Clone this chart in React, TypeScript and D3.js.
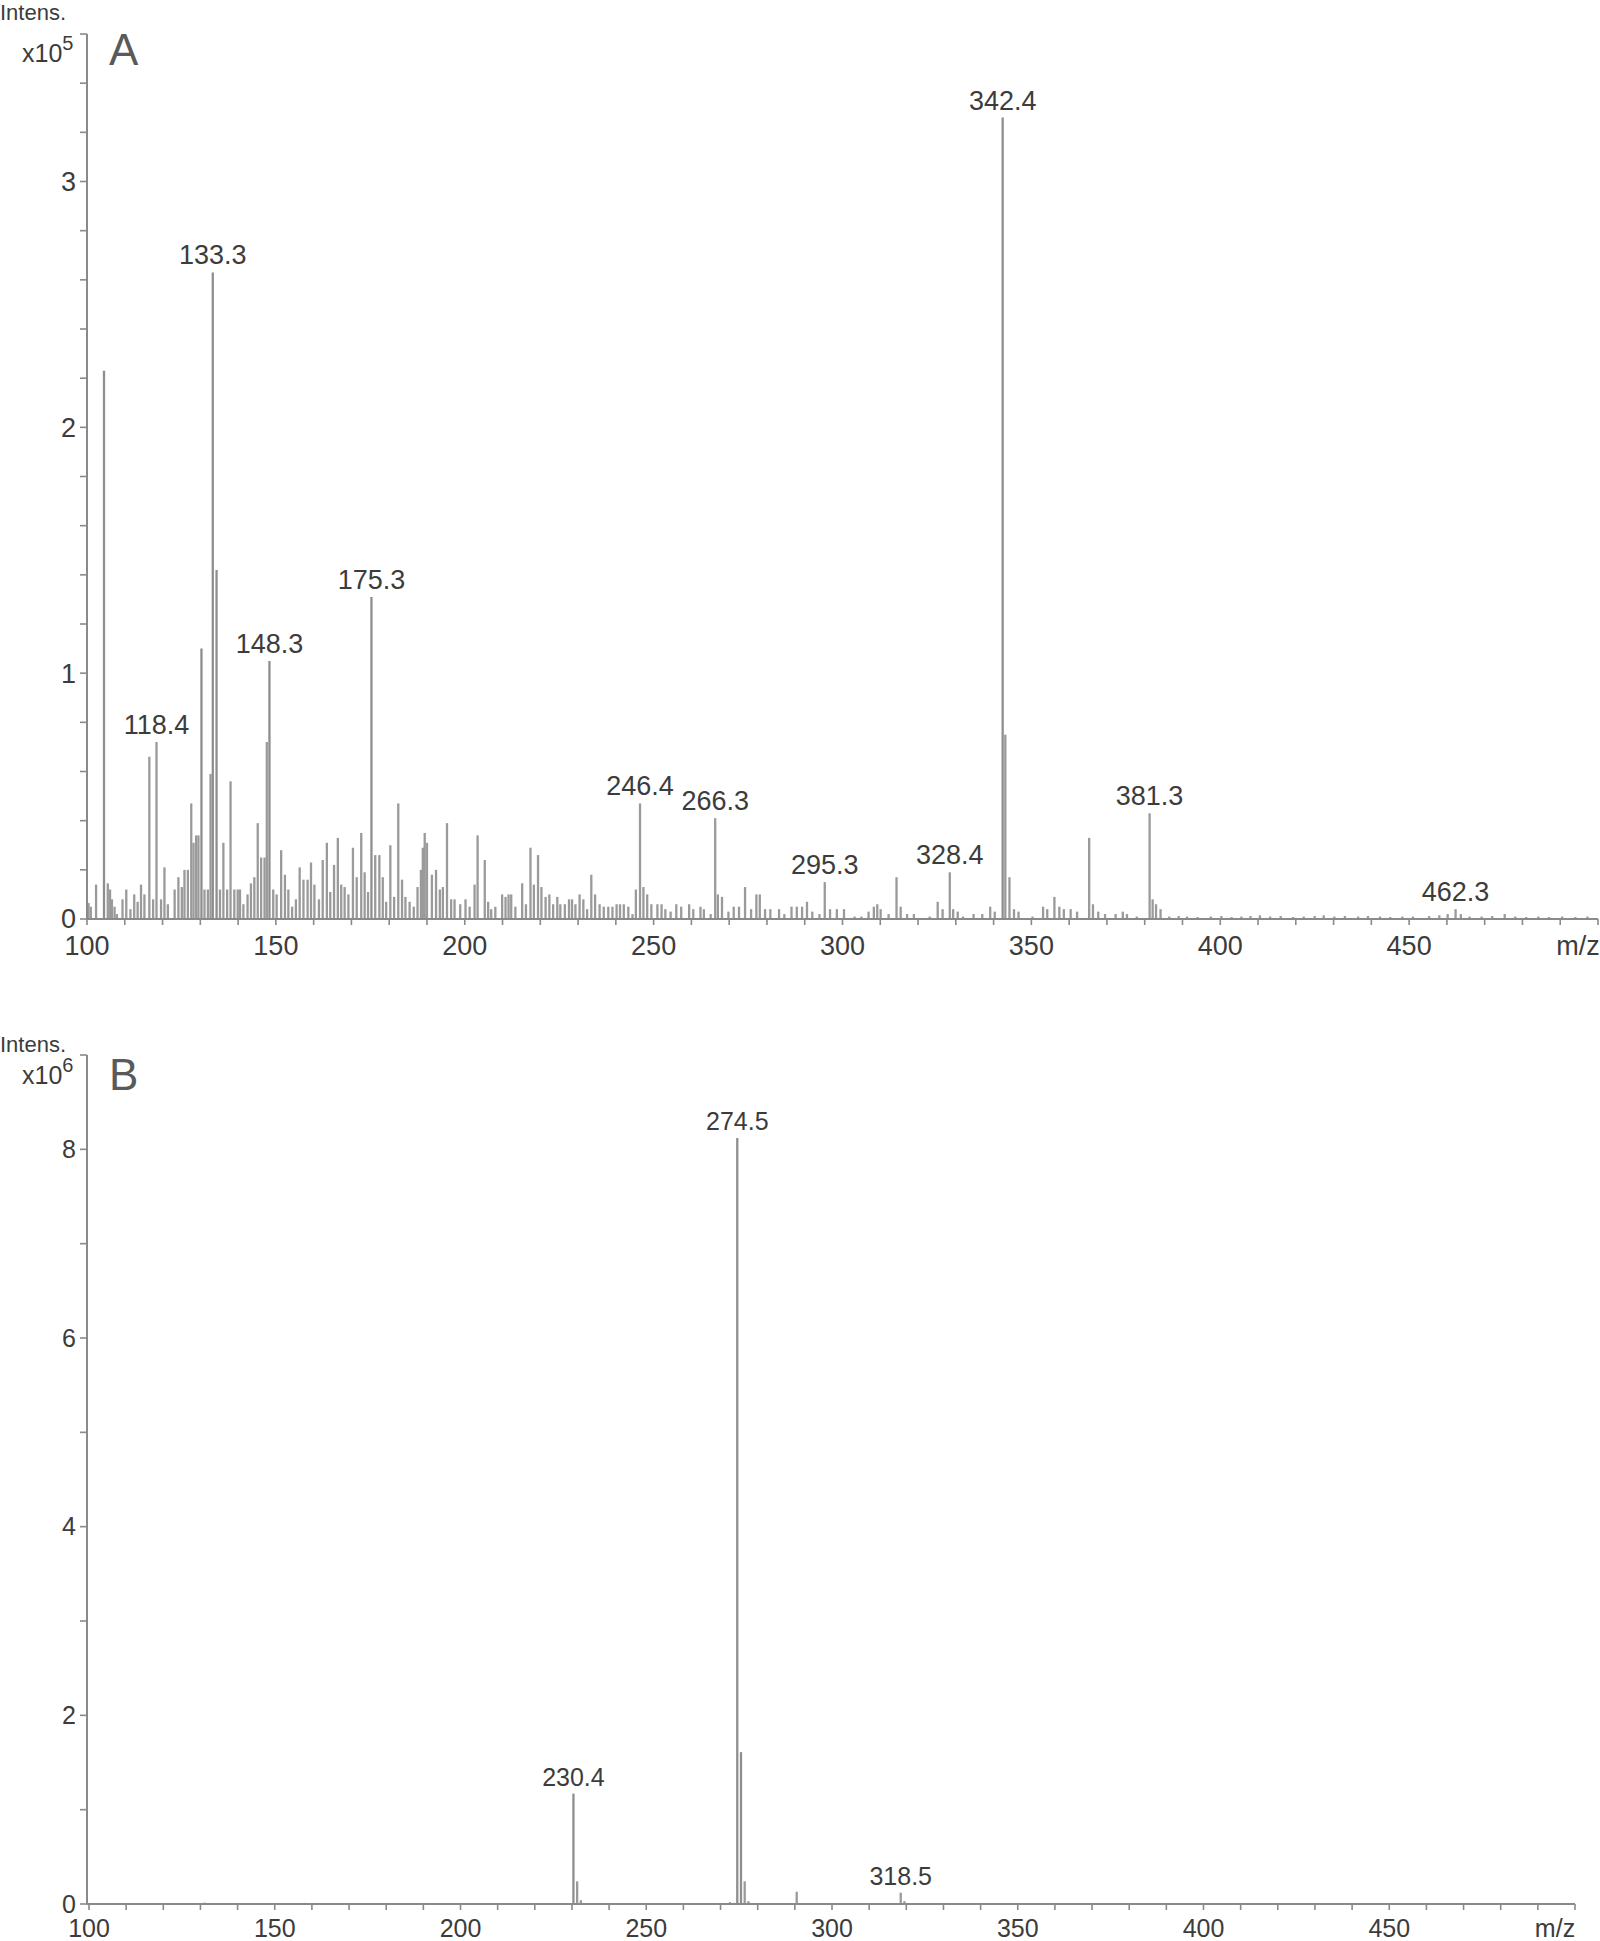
import React from "react";
import * as d3 from "d3";

// ---------- Panel A data (m/z, intensity x10^5) ----------
const mzA = [
  100.4, 101.0, 102.4, 104.5, 105.5, 106.1, 106.6, 107.3, 107.9, 109.4, 110.4, 111.5, 112.5, 113.4, 114.3, 115.2,
  116.5, 117.5, 118.4, 119.6, 120.5, 121.4, 123.2, 124.2, 125.1, 125.8, 126.7, 127.6, 128.2, 128.9, 129.5, 130.3,
  131.1, 132.0, 132.7, 133.3, 134.3, 135.2, 136.1, 137.1, 138.0, 139.0, 139.9, 140.5, 141.4, 142.5, 143.4, 144.3,
  145.2, 146.1, 147.0, 147.6, 148.3, 149.3, 150.2, 151.4, 152.4, 153.3, 154.3, 155.3, 156.3, 157.3, 158.4, 159.3,
  160.2, 161.4, 162.4, 163.5, 164.4, 165.4, 166.4, 167.3, 168.2, 169.2, 170.4, 171.4, 172.6, 173.5, 174.4, 175.3,
  176.3, 177.4, 178.3, 179.2, 180.3, 181.3, 182.4, 183.4, 184.3, 185.4, 186.5, 187.5, 188.4, 188.9, 189.4, 190.0,
  191.3, 192.4, 193.4, 194.2, 195.3, 196.4, 197.3, 198.8, 200.2, 201.3, 202.6, 203.4, 205.3, 206.2, 207.0, 208.1,
  209.9, 210.8, 211.6, 212.3, 213.4, 215.2, 216.2, 217.4, 218.3, 219.4, 220.3, 221.4, 222.4, 223.4, 224.5, 225.3,
  226.5, 227.6, 228.4, 229.3, 230.4, 231.4, 232.4, 233.5, 234.5, 235.7, 236.8, 238.0, 239.1, 240.2, 241.1, 242.1,
  243.3, 244.4, 245.3, 246.4, 247.3, 248.3, 249.4, 251.0, 252.1, 253.1, 254.5, 256.0, 257.3, 259.4, 260.5, 262.4,
  263.3, 265.1, 266.3, 267.0, 268.1, 269.8, 271.2, 272.6, 274.2, 275.8, 277.2, 278.1, 279.5, 280.9, 283.2, 284.6,
  286.5, 287.9, 289.3, 290.6, 292.0, 293.9, 295.3, 296.7, 298.5, 300.4, 303.2, 305.0, 306.9, 308.3, 309.2, 310.1,
  312.2, 314.3, 315.4, 317.1, 318.9, 323.1, 325.2, 326.5, 328.4, 329.3, 330.5, 331.9, 334.7, 337.0, 339.1, 340.3,
  342.4, 343.1, 344.2, 345.4, 346.6, 350.3, 353.1, 354.2, 356.1, 357.4, 358.6, 360.4, 362.1, 365.3, 366.3, 367.7,
  369.5, 372.3, 374.2, 375.3, 377.9, 381.3, 382.1, 383.0, 384.2, 386.5, 389.0, 391.2, 394.0, 397.5, 400.3, 403.0,
  405.6, 408.0, 410.5, 413.2, 416.0, 419.3, 422.1, 425.0, 427.4, 430.2, 433.0, 436.5, 439.1, 442.3, 445.0, 448.2,
  451.0, 455.3, 458.0, 460.2, 462.3, 463.7, 466.0, 469.2, 472.0, 475.3, 478.1, 481.0, 484.2, 487.0, 490.5, 494.0,
  497.2,
];
const intA = [
  0.065, 0.05, 0.14, 2.23, 0.145, 0.12, 0.08, 0.05, 0.02, 0.08, 0.12, 0.04, 0.1, 0.07, 0.14, 0.1,
  0.66, 0.08, 0.72, 0.08, 0.21, 0.06, 0.12, 0.17, 0.13, 0.2, 0.2, 0.47, 0.31, 0.34, 0.34, 1.1,
  0.12, 0.12, 0.59, 2.63, 1.42, 0.12, 0.31, 0.12, 0.56, 0.12, 0.12, 0.12, 0.06, 0.1, 0.145, 0.17,
  0.39, 0.25, 0.25, 0.72, 1.05, 0.12, 0.1, 0.28, 0.18, 0.12, 0.05, 0.08, 0.21, 0.16, 0.16, 0.23,
  0.14, 0.08, 0.24, 0.31, 0.11, 0.22, 0.33, 0.14, 0.13, 0.1, 0.29, 0.17, 0.35, 0.19, 0.11, 1.31,
  0.26, 0.26, 0.17, 0.07, 0.3, 0.09, 0.47, 0.16, 0.09, 0.07, 0.05, 0.13, 0.2, 0.29, 0.35, 0.31,
  0.18, 0.2, 0.12, 0.13, 0.39, 0.08, 0.08, 0.06, 0.08, 0.05, 0.14, 0.34, 0.24, 0.07, 0.04, 0.05,
  0.1, 0.09, 0.1, 0.1, 0.05, 0.145, 0.06, 0.29, 0.14, 0.26, 0.13, 0.09, 0.1, 0.06, 0.09, 0.06,
  0.06, 0.08, 0.08, 0.06, 0.1, 0.08, 0.04, 0.18, 0.1, 0.06, 0.05, 0.05, 0.05, 0.06, 0.06, 0.06,
  0.05, 0.02, 0.12, 0.47, 0.13, 0.1, 0.06, 0.06, 0.06, 0.04, 0.03, 0.06, 0.05, 0.06, 0.04, 0.05,
  0.04, 0.02, 0.41, 0.1, 0.09, 0.03, 0.05, 0.05, 0.13, 0.04, 0.1, 0.1, 0.04, 0.04, 0.04, 0.02,
  0.05, 0.05, 0.05, 0.07, 0.03, 0.02, 0.15, 0.04, 0.04, 0.04, 0.01, 0.01, 0.03, 0.05, 0.06, 0.04,
  0.02, 0.17, 0.05, 0.02, 0.02, 0.01, 0.07, 0.04, 0.19, 0.04, 0.03, 0.01, 0.02, 0.02, 0.05, 0.03,
  3.26, 0.75, 0.17, 0.04, 0.03, 0.01, 0.05, 0.04, 0.09, 0.05, 0.04, 0.04, 0.03, 0.33, 0.06, 0.03,
  0.02, 0.02, 0.03, 0.02, 0.01, 0.43, 0.08, 0.06, 0.04, 0.01, 0.012, 0.01, 0.008, 0.01, 0.012, 0.008,
  0.01, 0.012, 0.015, 0.01, 0.012, 0.008, 0.01, 0.012, 0.015, 0.01, 0.012, 0.01, 0.012, 0.01, 0.008, 0.01,
  0.01, 0.012, 0.015, 0.02, 0.04, 0.02, 0.01, 0.01, 0.012, 0.02, 0.01, 0.008, 0.01, 0.008, 0.01, 0.008,
  0.01,
];
const labelsA = [118.4, 133.3, 148.3, 175.3, 246.4, 266.3, 295.3, 328.4, 342.4, 381.3, 462.3];

// ---------- Panel B data (m/z, intensity x10^6) ----------
const mzB = [
  105.0, 120.0, 131.2, 145.0, 158.0, 175.0, 190.0, 203.0, 215.0, 230.4, 231.4, 232.4, 246.0, 260.0, 272.5,
  274.5, 275.5, 276.5, 277.5, 290.5, 305.0, 318.5, 319.5, 335.0, 360.0, 390.0, 420.0, 455.0,
];
const intB = [
  0.01, 0.008, 0.015, 0.01, 0.012, 0.01, 0.008, 0.01, 0.01, 1.17, 0.24, 0.04, 0.01, 0.008, 0.02,
  8.12, 1.61, 0.24, 0.03, 0.13, 0.01, 0.12, 0.03, 0.01, 0.008, 0.01, 0.008, 0.008,
];
const labelsB = [230.4, 274.5, 318.5];

// ---------- Axis ticks ----------
const xMajorTicks = [100, 150, 200, 250, 300, 350, 400, 450];
const yMajorA = [0, 1, 2, 3];
const yMajorB = [0, 2, 4, 6, 8];

const FONT = "'Liberation Sans Narrow','Liberation Sans',Arial,sans-serif";
const FONT_REG = "'Liberation Sans',Arial,sans-serif";
const AXIS = "#8a8a8a";
const BAR = "#9a9a9a";
const TEXT = "#3c3c3c";

type PanelProps = {
  mz: number[];
  inten: number[];
  labels: number[];
  xRange: [number, number];
  yDomainMax: number;
  yRange: [number, number];
  yMajor: number[];
  yMinorStep: number;
  exponent: string;
  letter: string;
  intensY: number;
  expY: number;
  letterY: number;
  xLabelDy: number;
  fs: number;
};

function Panel(p: PanelProps) {
  const x = d3.scaleLinear().domain([100, 500]).range(p.xRange);
  const y = d3.scaleLinear().domain([0, p.yDomainMax]).range(p.yRange);
  const y0 = y(0);
  const axisX = 87;
  const minorX = d3.range(100, 501, 10);
  const minorY = d3.range(0, p.yDomainMax + 1e-6, p.yMinorStep);
  const fmt = (v: number) => v.toFixed(1);
  const lookup = (m: number) => {
    const i = p.mz.findIndex((v) => Math.abs(v - m) < 0.05);
    return i >= 0 ? p.inten[i] : 0;
  };
  return (
    <g>
      {/* peaks */}
      {p.mz.map((m, i) => (
        <line
          key={"p" + i}
          x1={x(m)}
          x2={x(m)}
          y1={y0}
          y2={y(p.inten[i])}
          stroke={p.inten[i] > 0.9 ? "#8e8e8e" : BAR}
          strokeWidth={2.3}
        />
      ))}
      {/* x axis */}
      <line x1={axisX} x2={p.xRange[1]} y1={y0} y2={y0} stroke={AXIS} strokeWidth={2} />
      {minorX.map((t) => (
        <line key={"xm" + t} x1={x(t)} x2={x(t)} y1={y0} y2={y0 + 6} stroke={AXIS} strokeWidth={1.6} />
      ))}
      {xMajorTicks.map((t) => (
        <text
          key={"xl" + t}
          x={x(t)}
          y={y0 + p.xLabelDy}
          textAnchor="middle"
          fontFamily={FONT}
          fontSize={p.fs}
          fill={TEXT}
        >
          {t}
        </text>
      ))}
      <text
        x={p.xRange[1] - 20}
        y={y0 + p.xLabelDy}
        textAnchor="middle"
        fontFamily={FONT}
        fontSize={p.fs}
        fill={TEXT}
      >
        m/z
      </text>
      {/* y axis */}
      <line x1={axisX} x2={axisX} y1={y0} y2={y(p.yDomainMax)} stroke={AXIS} strokeWidth={2} />
      {minorY.map((t, i) => (
        <line key={"ym" + i} x1={axisX - 7} x2={axisX} y1={y(t)} y2={y(t)} stroke={AXIS} strokeWidth={1.6} />
      ))}
      {p.yMajor.map((t) => (
        <text
          key={"yl" + t}
          x={76}
          y={y(t)}
          dy="0.35em"
          textAnchor="end"
          fontFamily={FONT}
          fontSize={p.fs}
          fill={TEXT}
        >
          {t}
        </text>
      ))}
      {/* headers */}
      <text x={0} y={p.intensY} fontFamily={FONT_REG} fontSize={22} fill={TEXT}>
        Intens.
      </text>
      <text x={22} y={p.expY} fontFamily={FONT} fontSize={25} fill={TEXT}>
        x10
        <tspan dy={-12} fontSize={20}>
          {p.exponent}
        </tspan>
      </text>
      <text x={109} y={p.letterY} fontFamily={FONT_REG} fontSize={44} fill="#5a5a5a">
        {p.letter}
      </text>
      {/* peak labels */}
      {p.labels.map((m) => (
        <text
          key={"lab" + m}
          x={x(m)}
          y={y(lookup(m)) - 8}
          textAnchor="middle"
          fontFamily={FONT}
          fontSize={p.fs}
          fill={TEXT}
        >
          {fmt(m)}
        </text>
      ))}
    </g>
  );
}

export default function App() {
  return (
    <svg
      width={1600}
      height={1941}
      style={{ position: "absolute", left: 0, top: 0, background: "#fff" }}
    >
      <rect width={1600} height={1941} fill="#fff" />
      <Panel
        mz={mzA}
        inten={intA}
        labels={labelsA}
        xRange={[87, 1598]}
        yDomainMax={3.6}
        yRange={[919, 34]}
        yMajor={yMajorA}
        yMinorStep={0.2}
        exponent="5"
        letter="A"
        intensY={20}
        expY={62}
        letterY={65}
        xLabelDy={36}
        fs={27}
      />
      <Panel
        mz={mzB}
        inten={intB}
        labels={labelsB}
        xRange={[89, 1575]}
        yDomainMax={9}
        yRange={[1904, 1055]}
        yMajor={yMajorB}
        yMinorStep={1}
        exponent="6"
        letter="B"
        intensY={1052}
        expY={1084}
        letterY={1090}
        xLabelDy={33}
        fs={25}
      />
    </svg>
  );
}
